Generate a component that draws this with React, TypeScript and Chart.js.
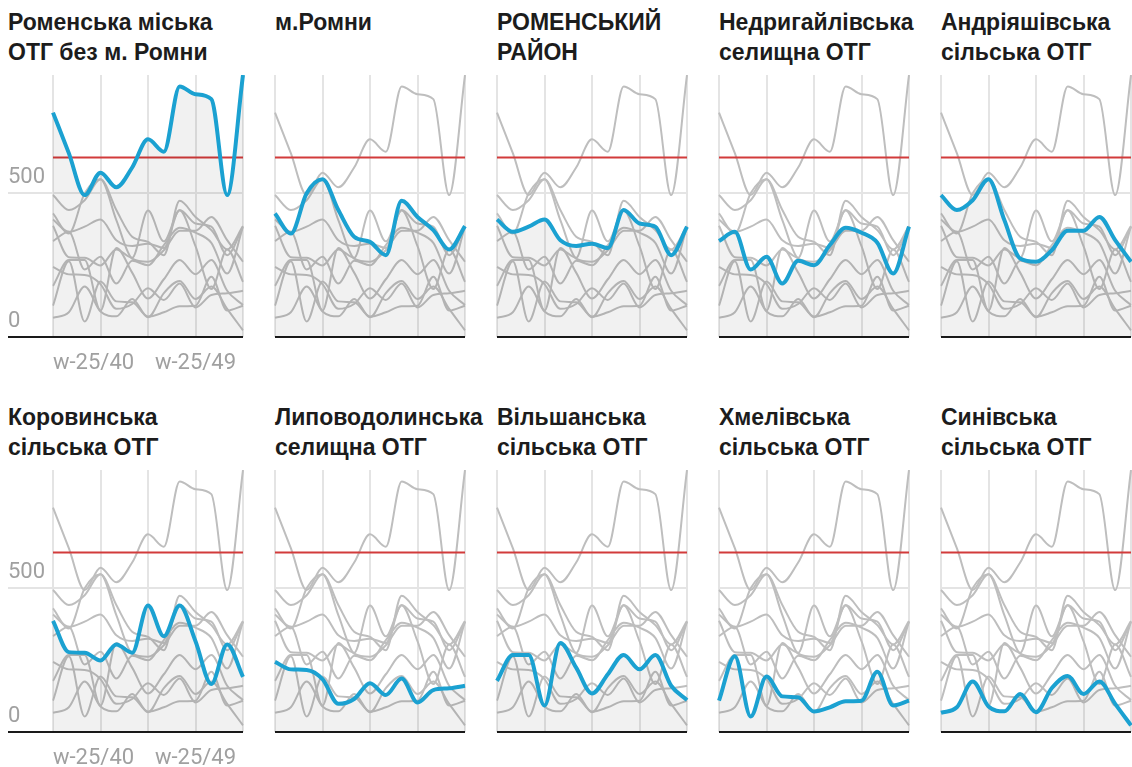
import React, { useEffect, useRef } from 'react';
import { Chart, registerables } from 'chart.js';

Chart.register(...registerables);

// ---- data ----
const WEEKS = [
  'w-25/40', 'w-25/41', 'w-25/42', 'w-25/43', 'w-25/44', 'w-25/45', 'w-25/46',
  'w-25/47', 'w-25/48', 'w-25/49', 'w-25/50', 'w-25/51', 'w-25/52',
];
const SHOWN_WEEK_LABELS = ['w-25/40', 'w-25/49'];
const GRID_WEEKS = ['w-25/40', 'w-25/43', 'w-25/46', 'w-25/49', 'w-25/52'];
const Y_TICKS = [0, 500];
const THRESHOLD = 625;

const TITLES = [
  'Роменська міська\nОТГ без м. Ромни',
  'м.Ромни',
  'РОМЕНСЬКИЙ\nРАЙОН',
  'Недригайлівська\nселищна ОТГ',
  'Андріяшівська\nсільська ОТГ',
  'Коровинська\nсільська ОТГ',
  'Липоводолинська\nселищна ОТГ',
  'Вільшанська\nсільська ОТГ',
  'Хмелівська\nсільська ОТГ',
  'Синівська\nсільська ОТГ',
];

const ROMNY_OTG = [781, 640, 494, 572, 521, 590, 688, 645, 872, 845, 828, 494, 912];
const ROMNY_CITY = [430, 360, 500, 549, 442, 349, 331, 285, 474, 418, 372, 305, 386];
const ROMNY_DISTRICT = [409, 366, 384, 409, 337, 317, 325, 310, 442, 395, 384, 285, 384];
const NEDRYHAILIV = [334, 366, 235, 279, 186, 265, 250, 320, 380, 363, 328, 221, 384];
const ANDRIYASHIV = [494, 442, 476, 549, 407, 273, 262, 302, 370, 370, 418, 337, 262];
const KOROVYNTSI = [387, 278, 276, 249, 305, 276, 440, 333, 440, 316, 167, 305, 192];
const LYPOVA_DOLYNA = [244, 218, 216, 184, 98, 115, 170, 129, 186, 103, 146, 152, 161];
const VILSHANA = [178, 268, 268, 92, 310, 224, 134, 201, 268, 218, 268, 161, 111];
const KHMELIV = [109, 264, 54, 193, 124, 121, 71, 86, 107, 109, 210, 92, 109];
const SYNIVKA = [67, 86, 176, 89, 72, 132, 69, 153, 195, 132, 176, 98, 23];

const SERIES = [
  ROMNY_OTG, ROMNY_CITY, ROMNY_DISTRICT, NEDRYHAILIV, ANDRIYASHIV,
  KOROVYNTSI, LYPOVA_DOLYNA, VILSHANA, KHMELIV, SYNIVKA,
];

// ---- styles ----
const BLUE = '#1ba1d1';
const GRAY_LINE = '#bebebe';
const RED = '#d23b3b';
const GRID = '#e4e4e4';
const AXIS = '#1a1a1a';
const FILL = 'rgba(0,0,0,0.055)';
const LABEL = '#a0a0a0';
const TICK_SIZE = 22;
const TICK_FONT = { family: 'Roboto', size: TICK_SIZE };

const PLOT_LEFTS = [53, 275, 497, 719, 941];
const PLOT_W = 190;
const PLOT_TOPS = [75, 470];
const TITLE_TOPS = [7, 402];
const PLOT_H = 262;
const AXIS_H = 44;
const Y_AXIS_W = 45;
const EDGE = 3;
const FIRST_TOP_PAD = 14; // room reserved by Chart.js for the half-height of y tick labels

function Panel({ index }: { index: number }) {
  const ref = useRef<HTMLCanvasElement>(null);
  const col = index % 5;
  const row = Math.floor(index / 5);
  const first = col === 0;
  const topPad = first ? FIRST_TOP_PAD : EDGE;
  const canvasLeft = first ? PLOT_LEFTS[0] - Y_AXIS_W : PLOT_LEFTS[col] - EDGE;
  const canvasW = first ? Y_AXIS_W + PLOT_W + EDGE : PLOT_W + 2 * EDGE;
  const canvasTop = PLOT_TOPS[row] - topPad;
  const canvasH = topPad + PLOT_H + AXIS_H;

  useEffect(() => {
    if (!ref.current) return;
    const yMax = Math.max(...SERIES.flat());
    const line = { pointRadius: 0, cubicInterpolationMode: 'monotone' as const, fill: false };
    const datasets: any[] = [
      {
        ...line,
        data: SERIES[index],
        borderColor: BLUE,
        borderWidth: 4,
        fill: 'origin',
        backgroundColor: FILL,
        order: 0,
      },
      {
        ...line,
        data: WEEKS.map(() => THRESHOLD),
        borderColor: RED,
        borderWidth: 2,
        order: 1,
      },
      ...SERIES.filter((_, i) => i !== index).map((s) => ({
        ...line,
        data: s,
        borderColor: GRAY_LINE,
        borderWidth: 2,
        order: 2,
      })),
    ];
    const chart = new Chart(ref.current, {
      type: 'line',
      data: { labels: WEEKS, datasets },
      options: {
        animation: false,
        responsive: false,
        layout: { padding: { left: first ? 0 : EDGE, right: EDGE, top: topPad, bottom: 0 } },
        plugins: { legend: { display: false }, tooltip: { enabled: false } },
        scales: {
          x: {
            grid: {
              color: (ctx: any) => (GRID_WEEKS.includes(WEEKS[ctx.index]) ? GRID : 'transparent'),
              lineWidth: 2,
              drawTicks: true,
              tickLength: 13,
              tickColor: 'transparent',
            },
            border: { display: false },
            ticks: {
              autoSkip: false,
              maxRotation: 0,
              align: 'inner',
              padding: 0,
              color: LABEL,
              font: TICK_FONT,
              callback: (_v: any, i: number) =>
                first && SHOWN_WEEK_LABELS.includes(WEEKS[i]) ? WEEKS[i] : '',
            },
            afterFit: (s: any) => {
              s.height = AXIS_H;
            },
          },
          y: {
            min: 0,
            max: yMax,
            afterBuildTicks: (s: any) => {
              s.ticks = Y_TICKS.map((v) => ({ value: v }));
            },
            grid: {
              color: (ctx: any) => (ctx.tick && ctx.tick.value === 0 ? AXIS : GRID),
              tickColor: (ctx: any) => (ctx.tick && ctx.tick.value === 0 ? AXIS : GRID),
              lineWidth: 2,
              tickWidth: 2,
              drawTicks: first,
              tickLength: Y_AXIS_W,
            },
            border: { display: false },
            ticks: {
              display: first,
              crossAlign: 'far',
              labelOffset: -16,
              padding: 0,
              color: LABEL,
              font: TICK_FONT,
            },
            afterFit: (s: any) => {
              s.width = first ? Y_AXIS_W : 0;
            },
          },
        },
      } as any,
    });
    return () => chart.destroy();
  }, [index]);

  return (
    <>
      <div
        style={{
          position: 'absolute',
          left: first ? 8 : PLOT_LEFTS[col],
          top: TITLE_TOPS[row],
          font: 'bold 23px "Liberation Sans", Arial, sans-serif',
          lineHeight: '30px',
          color: '#1c1c1c',
          whiteSpace: 'pre',
        }}
      >
        {TITLES[index]}
      </div>
      <canvas
        ref={ref}
        width={canvasW}
        height={canvasH}
        style={{ position: 'absolute', left: canvasLeft, top: canvasTop, width: canvasW, height: canvasH }}
      />
    </>
  );
}

export default function App() {
  return (
    <div
      style={{
        position: 'absolute',
        left: 0,
        top: 0,
        width: 1132,
        height: 767,
        overflow: 'hidden',
        background: '#ffffff',
      }}
    >
      {SERIES.map((_, i) => (
        <Panel key={i} index={i} />
      ))}
    </div>
  );
}
